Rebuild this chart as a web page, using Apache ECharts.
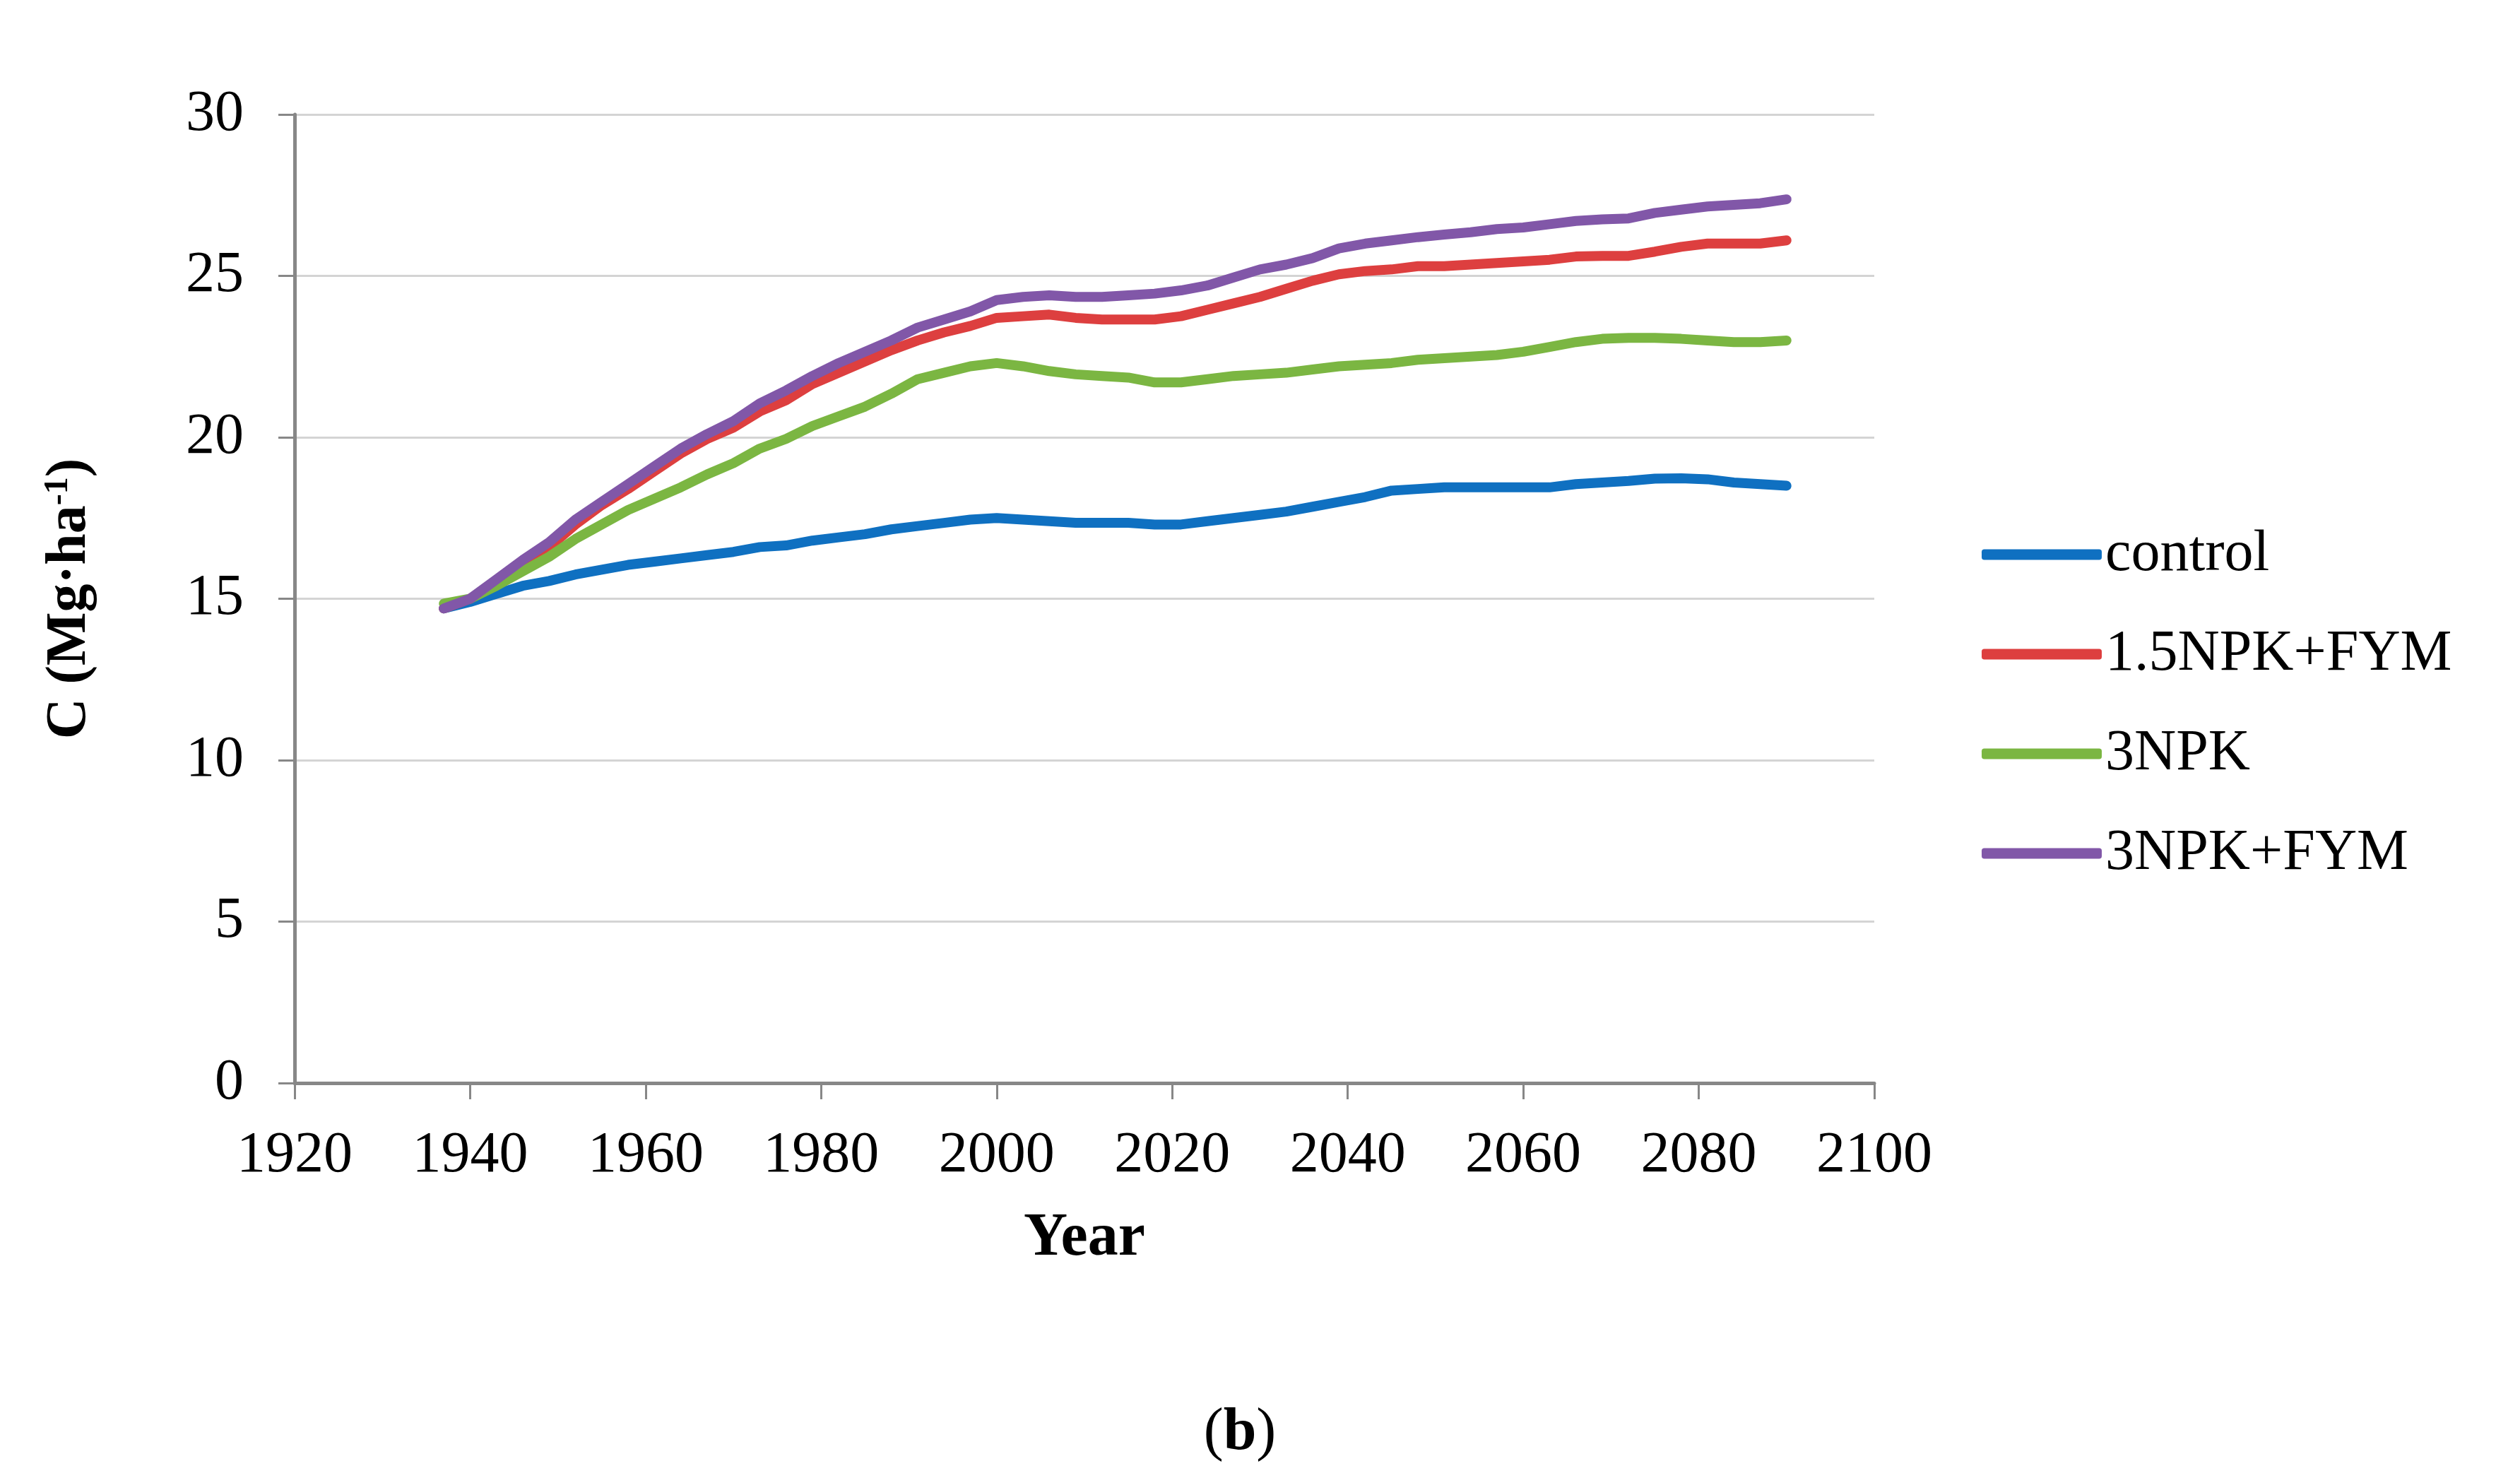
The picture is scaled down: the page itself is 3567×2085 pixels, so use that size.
<!DOCTYPE html>
<html>
<head>
<meta charset="utf-8">
<script src="https://cdn.jsdelivr.net/npm/echarts@6/dist/echarts.min.js"></script>
<style>
html,body{margin:0;padding:0;background:#fff;}
#chart{width:3567px;height:2085px;}
</style>
</head>
<body>
<div id="chart"></div>
<script>
const years = [1937,1940,1943,1946,1949,1952,1955,1958,1961,1964,1967,1970,1973,1976,1979,1982,1985,1988,1991,1994,1997,2000,2003,2006,2009,2012,2015,2018,2021,2024,2027,2030,2033,2036,2039,2042,2045,2048,2051,2054,2057,2060,2063,2066,2069,2072,2075,2078,2081,2084,2087,2090];

const control = [14.7,14.9,15.15,15.4,15.55,15.75,15.9,16.05,16.15,16.25,16.35,16.45,16.6,16.65,16.8,16.9,17.0,17.15,17.25,17.35,17.45,17.5,17.45,17.4,17.35,17.35,17.35,17.3,17.3,17.4,17.5,17.6,17.7,17.85,18.0,18.15,18.35,18.4,18.45,18.45,18.45,18.45,18.45,18.55,18.6,18.65,18.72,18.73,18.7,18.6,18.55,18.5];

const npk15fym = [14.7,15.0,15.5,16.1,16.6,17.3,17.9,18.4,18.95,19.5,19.95,20.3,20.8,21.15,21.65,22.0,22.35,22.7,23.0,23.25,23.45,23.7,23.75,23.8,23.7,23.65,23.65,23.65,23.75,23.95,24.15,24.35,24.6,24.85,25.05,25.15,25.2,25.3,25.3,25.35,25.4,25.45,25.5,25.6,25.62,25.62,25.75,25.9,26.0,26.0,26.0,26.1];

const npk3 = [14.85,15.0,15.4,15.85,16.3,16.85,17.3,17.75,18.1,18.45,18.85,19.2,19.65,19.95,20.35,20.65,20.95,21.35,21.8,22.0,22.2,22.3,22.2,22.05,21.95,21.9,21.85,21.7,21.7,21.8,21.9,21.95,22.0,22.1,22.2,22.25,22.3,22.4,22.45,22.5,22.55,22.65,22.8,22.95,23.05,23.08,23.08,23.05,23.0,22.95,22.95,23.0];

const npk3fym = [14.7,15.0,15.6,16.2,16.75,17.45,18.0,18.55,19.1,19.65,20.1,20.5,21.05,21.45,21.9,22.3,22.65,23.0,23.4,23.65,23.9,24.25,24.35,24.4,24.35,24.35,24.4,24.45,24.55,24.7,24.95,25.2,25.35,25.55,25.85,26.0,26.1,26.2,26.28,26.35,26.45,26.5,26.6,26.7,26.75,26.78,26.95,27.05,27.15,27.2,27.25,27.37];

const seriesNames = ['control','1.5NPK+FYM','3NPK','3NPK+FYM'];
const seriesColors = ['#0f70c1','#dd3f3f','#7bb642','#8157a8'];
const seriesValues = [control, npk15fym, npk3, npk3fym];

const xTicks = {min:1920, max:2100, interval:20};
const yTicks = {min:0, max:30, interval:5};

const serif = 'Liberation Serif, Times New Roman, serif';
const axisGray = '#878787';

const chart = echarts.init(document.getElementById('chart'), null, {renderer:'canvas'});
const option = {
  animation:false,
  backgroundColor:'#ffffff',
  title:{
    text:'{p|(}{b|b}{p|)}',
    left:1750, top:1982, textAlign:'center',
    textStyle:{rich:{
      p:{fontFamily:serif,fontSize:84,fontWeight:'normal',color:'#000'},
      b:{fontFamily:serif,fontSize:84,fontWeight:'bold',color:'#000'}
    }}
  },
  grid:{left:417,right:914,top:162,bottom:552},
  legend:{
    orient:'vertical',
    left:2800, top:735,
    itemWidth:170, itemHeight:15,
    itemGap:51,
    icon:'roundRect',
    textStyle:{fontFamily:serif,fontSize:82,color:'#000',lineHeight:90,padding:[0,0,0,0]},
    data:seriesNames
  },
  xAxis:{
    type:'value',
    min:xTicks.min, max:xTicks.max, interval:xTicks.interval,
    name:'Year',
    nameLocation:'middle',
    nameGap:178,
    nameTextStyle:{fontFamily:serif,fontSize:86,fontWeight:'bold',color:'#000'},
    axisLine:{show:true,onZero:false,lineStyle:{color:axisGray,width:5}},
    axisTick:{show:true,inside:false,length:23,lineStyle:{color:axisGray,width:3}},
    axisLabel:{fontFamily:serif,fontSize:82,color:'#000',margin:62,formatter:v=>String(v)},
    splitLine:{show:false}
  },
  yAxis:{
    type:'value',
    min:yTicks.min, max:yTicks.max, interval:yTicks.interval,
    name:'{a|C (Mg·ha}{s|-1}{a|)}',
    nameLocation:'middle',
    nameGap:278,
    nameRotate:90,
    nameTextStyle:{rich:{
      a:{fontFamily:serif,fontSize:80,fontWeight:'bold',color:'#000'},
      s:{fontFamily:serif,fontSize:48,fontWeight:'bold',color:'#000',verticalAlign:'top',padding:[0,0,30,0]}
    }},
    axisLine:{show:true,lineStyle:{color:axisGray,width:5}},
    axisTick:{show:true,inside:false,length:23,lineStyle:{color:axisGray,width:3}},
    axisLabel:{fontFamily:serif,fontSize:82,color:'#000',margin:72},
    splitLine:{show:true,lineStyle:{color:'#d4d4d4',width:3}}
  },
  series: seriesNames.map((n,i)=>({
    name:n,
    type:'line',
    data: years.map((y,j)=>[y, seriesValues[i][j]]),
    showSymbol:false,
    symbol:'none',
    smooth:false,
    color:seriesColors[i],
    lineStyle:{width:14,color:seriesColors[i],cap:'round',join:'round'},
    z:2+i
  }))
};
chart.setOption(option);
</script>
</body>
</html>
